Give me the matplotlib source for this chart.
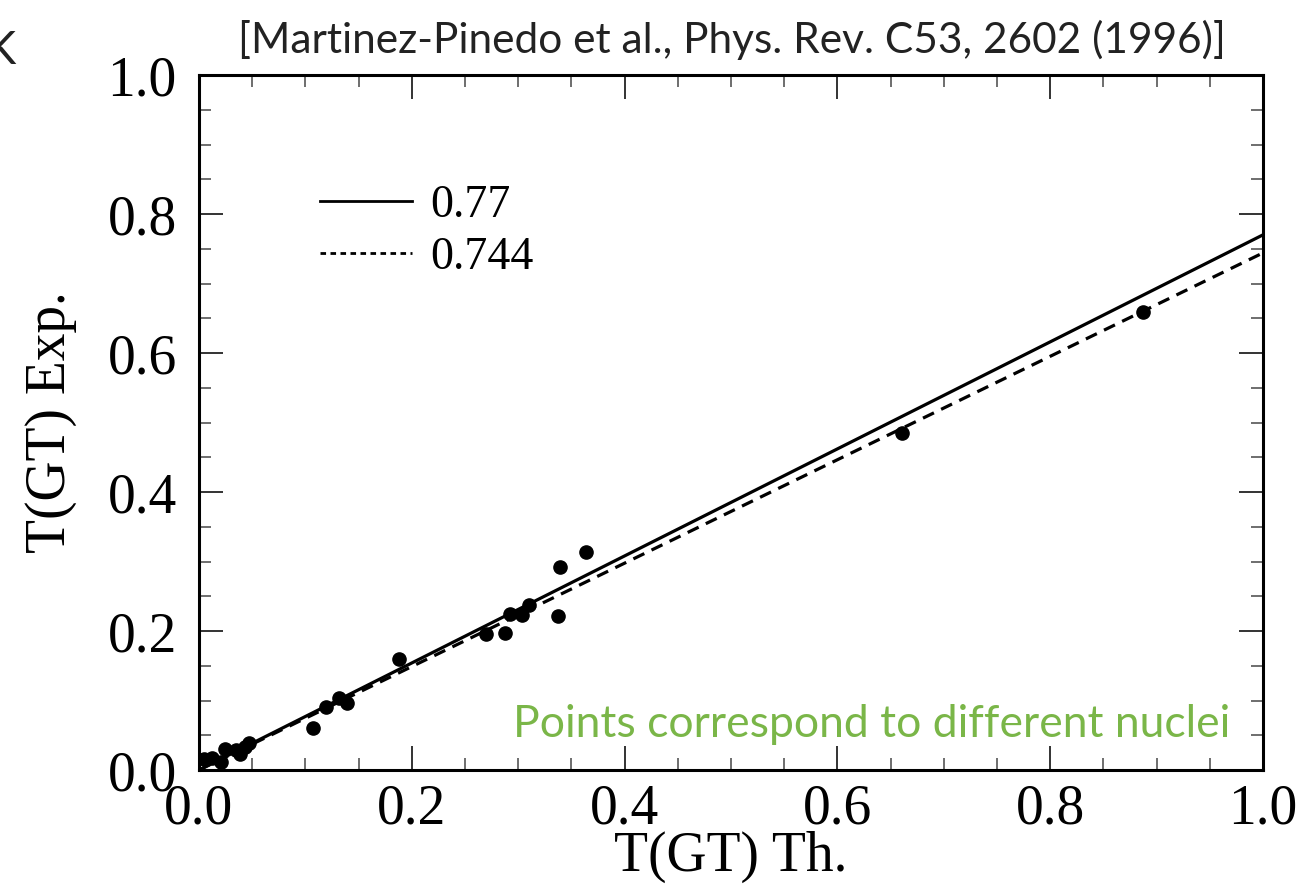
import numpy as np
import matplotlib
matplotlib.use('Agg')
import matplotlib.pyplot as plt
from matplotlib.lines import Line2D
from matplotlib.ticker import MultipleLocator

# Points: T(GT) theory vs experiment, one per nucleus
t_th = [0.005, 0.012, 0.021, 0.024, 0.035, 0.039, 0.043, 0.047,
        0.107, 0.119, 0.132, 0.139, 0.188, 0.270, 0.288, 0.292,
        0.304, 0.310, 0.337, 0.339, 0.364, 0.661, 0.887]
t_exp = [0.016, 0.017, 0.012, 0.030, 0.029, 0.023, 0.033, 0.039,
         0.060, 0.090, 0.104, 0.097, 0.160, 0.196, 0.197, 0.224,
         0.223, 0.237, 0.222, 0.292, 0.313, 0.485, 0.659]

# quenching factors of the two fits
slopes = [0.77, 0.744]
slope_labels = ['0.77', '0.744']

ticks = [0.0, 0.2, 0.4, 0.6, 0.8, 1.0]
tick_labels = ['0.0', '0.2', '0.4', '0.6', '0.8', '1.0']

serif = 'Liberation Serif'
sans = 'Lato'

fig = plt.figure(figsize=(13.16, 8.94), dpi=100)
ax = fig.add_axes([0.1512, 0.1387, 0.8085, 0.7774])

xx = np.array([0.0, 1.0])
ax.plot(xx, slopes[0] * xx, color='black', lw=2.3)
ax.plot(xx, slopes[1] * xx, color='black', lw=2.3, dashes=(3.8, 2.5))
ax.plot(t_th, t_exp, 'o', color='black', ms=9.5, mec='black')

ax.set_xlim(0, 1)
ax.set_ylim(0, 1)
for s in ax.spines.values():
    s.set_linewidth(2.2)

ax.set_xticks(ticks)
ax.set_yticks(ticks)
ax.set_xticklabels(tick_labels)
ax.set_yticklabels(tick_labels)
ax.xaxis.set_minor_locator(MultipleLocator(0.05))
ax.yaxis.set_minor_locator(MultipleLocator(0.05))
ax.tick_params(which='both', direction='in', top=True, right=True)
ax.tick_params(which='major', length=17, width=1.4, color='#333333', pad=10)
ax.tick_params(which='minor', length=8.6, width=1.2, color='#555555')
ax.tick_params(axis='y', which='major', pad=16)
for lab in ax.get_xticklabels() + ax.get_yticklabels():
    lab.set_fontfamily(serif)
    lab.set_fontsize(40)

ax.set_xlabel('T(GT) Th.', fontfamily=serif, fontsize=40, labelpad=-4)
ax.set_ylabel('T(GT) Exp.', fontfamily=serif, fontsize=40, labelpad=22)

handles = [Line2D([], [], color='black', lw=2.0),
           Line2D([], [], color='black', lw=2.0, dashes=(2.0, 1.6))]
leg = ax.legend(handles, slope_labels, loc='upper left', bbox_to_anchor=(0.114, 0.843),
                frameon=False, handlelength=2.0, handletextpad=0.39, labelspacing=0.22,
                borderpad=0, borderaxespad=0, prop={'family': serif, 'size': 33})

ax.text(0.969, 0.047, 'Points correspond to different nuclei', transform=ax.transAxes,
        ha='right', va='baseline', fontfamily=sans, fontsize=32, color='#7ab648')

fig.text(0.556, 0.955, '[Martinez-Pinedo et al., Phys. Rev. C53, 2602 (1996)]',
         ha='center', va='center', fontfamily=sans, fontsize=30.5, color='#222222')
fig.text(-0.012, 0.943, 'K', ha='left', va='center', fontfamily=sans,
         fontsize=34, color='#222222')

fig.savefig('out.png', dpi=100)
